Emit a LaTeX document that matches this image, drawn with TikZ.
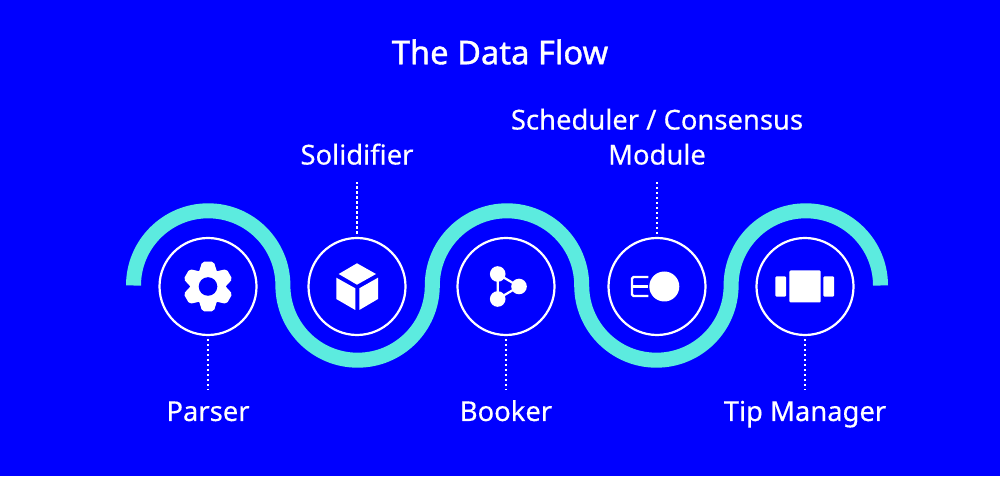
\documentclass[tikz,border=0pt]{standalone}
\usepackage{fontspec}
\setmainfont[FakeBold=0.35]{Noto Sans}
\newfontfamily\titlefont[FakeBold=1.1]{Noto Sans}
\usepackage{xcolor}
\usepackage{tikz}
\definecolor{flowblue}{HTML}{0000FF}
\definecolor{flowteal}{HTML}{5CEBDF}
\tikzset{
  stage/.style={circle,draw=white,line width=2.2pt,minimum size=97pt,inner sep=0pt},
  stagelabel/.style={text=white,font=\fontsize{27.4}{35}\selectfont,align=center,inner sep=0pt},
  leader/.style={white,line width=1.2pt,dash pattern=on 2.4pt off 2.6pt},
  icon/.style={fill=white,draw=none}
}
\begin{document}
\begin{tikzpicture}[x=1pt,y=1pt]
  \fill[flowblue] (0,0) rectangle (1000,476);
  \useasboundingbox (0,0) rectangle (1000,476);

  \node[text=white,font=\fontsize{32.7}{35}\titlefont,inner sep=0pt] (title) at (500,424) {The Data Flow};

  % wave
  \draw[flowteal,line width=15pt] (133.5,190.5)
    arc[start angle=180,end angle=0,radius=74.7]
    arc[start angle=180,end angle=360,radius=74.7]
    arc[start angle=180,end angle=0,radius=74.7]
    arc[start angle=180,end angle=360,radius=74.7]
    arc[start angle=180,end angle=0,radius=74.7];

  \node[stage] (parser) at (208,189.5) {};
  \node[stage] (solidifier) at (357,189.5) {};
  \node[stage] (booker) at (506,189.5) {};
  \node[stage] (scheduler) at (657,189.5) {};
  \node[stage] (tipmanager) at (805,189.5) {};

  \node[stagelabel,anchor=base] (parserlabel) at (208,55) {Parser};
  \node[stagelabel,anchor=base] (bookerlabel) at (506,55) {Booker};
  \node[stagelabel,anchor=base] (tiplabel) at (805,55) {Tip Manager};
  \node[stagelabel,anchor=south] (solidifierlabel) at (357,311) {Solidifier};
  \node[stagelabel,anchor=south] (schedulerlabel) at (657,311) {Scheduler / Consensus\\Module};

  \draw[leader,shorten <=3pt] (parser.south) -- (parser.south |- 0,86);
  \draw[leader,shorten <=3pt] (booker.south) -- (booker.south |- 0,86);
  \draw[leader,shorten <=3pt] (tipmanager.south) -- (tipmanager.south |- 0,86);
  \draw[leader,shorten <=3pt,shorten >=17pt] (solidifier.north) -- (solidifierlabel.south);
  \draw[leader,shorten <=17pt,shorten >=3pt] (schedulerlabel.south) -- (scheduler.north);

  % gear
  \begin{scope}[shift={(parser.center)}]
    \fill[icon] (0,0) circle[radius=18];
    \foreach \a in {30,90,...,330}{
      \fill[icon,rounded corners=2pt,rotate=\a] (13,-9.5) -- (24.8,-5.8) -- (24.8,5.8) -- (13,9.5) -- cycle;
    };
    \fill[flowblue] (0,0) circle[radius=9.3];
  \end{scope}

  % cube
  \begin{scope}[shift={(solidifier.center)}]
    \fill[icon] (0,23.2) -- (19,12.5) -- (0,1.8) -- (-18.3,12.5) -- cycle;
    \fill[icon] (-20.7,8.8) -- (-1.7,-1.8) -- (-1.7,-23.5) -- (-20.7,-12.5) -- cycle;
    \fill[icon] (21,8.8) -- (2.3,-1.8) -- (2.3,-23.5) -- (21,-12.5) -- cycle;
  \end{scope}

  % graph
  \begin{scope}[shift={(booker.center)}]
    \draw[white,line width=2.2pt] (-8.3,12.5) -- (-8.3,-12.5) -- (13,0) -- cycle;
    \foreach \Point in {(-8.3,12.5),(-8.3,-12.5),(13,0)}{
      \fill[icon] \Point circle[radius=7.8];
    };
  \end{scope}

  % queue and ball
  \begin{scope}[shift={(scheduler.center)}]
    \fill[icon] (7.3,0) circle[radius=15];
    \draw[white,line width=2.2pt,rounded corners=1.5pt] (-8.7,9.5) -- (-25,9.5) -- (-25,-9.5) -- (-8.7,-9.5);
    \draw[white,line width=2.2pt] (-25,0) -- (-8.7,0);
  \end{scope}

  % tip blocks
  \begin{scope}[shift={(tipmanager.center)}]
    \fill[icon,rounded corners=1.2pt] (-15.7,-16) rectangle (15.7,16);
    \fill[icon,rounded corners=1.2pt] (-29.7,-10.2) rectangle (-19,10.2);
    \fill[icon,rounded corners=1.2pt] (18.3,-10.2) rectangle (29,10.2);
  \end{scope}
\end{tikzpicture}
\end{document}
